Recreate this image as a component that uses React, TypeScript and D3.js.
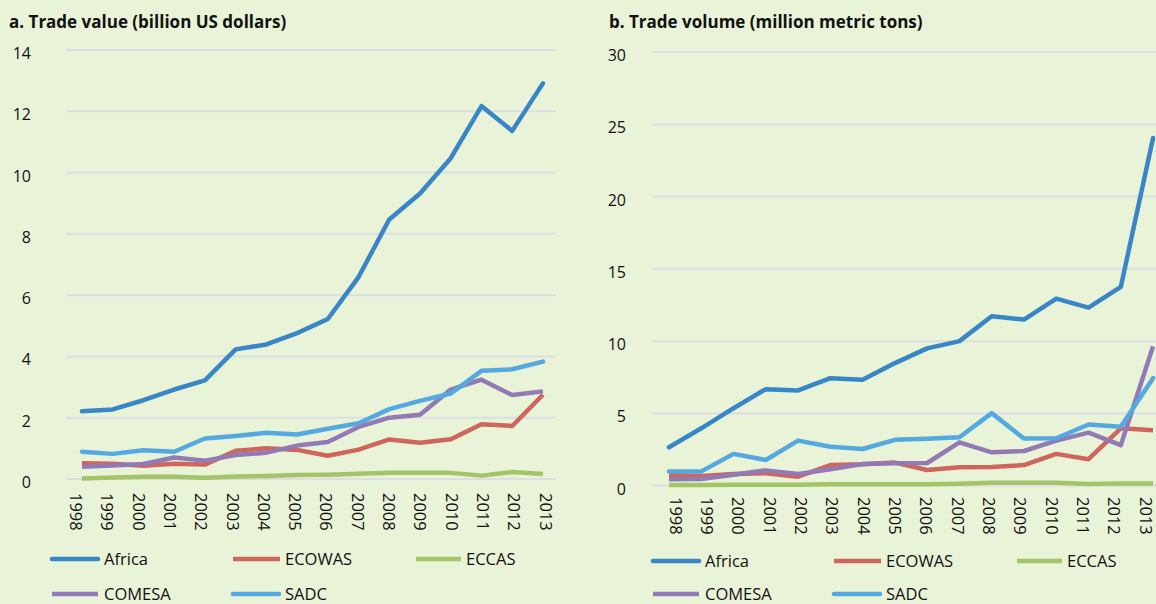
import React from 'react';
import * as d3 from 'd3';

const years = ['1998', '1999', '2000', '2001', '2002', '2003', '2004', '2005', '2006', '2007', '2008', '2009', '2010', '2011', '2012', '2013'];
const seriesNames = ['Africa', 'ECOWAS', 'ECCAS', 'COMESA', 'SADC'];
const seriesColors = ['#3886c8', '#cf665e', '#a4c468', '#917ab6', '#53a9e0'];

// a. Trade value (billion US dollars)
const valueAfrica = [2.21, 2.27, 2.57, 2.92, 3.22, 4.23, 4.39, 4.76, 5.22, 6.59, 8.47, 9.32, 10.47, 12.17, 11.36, 12.91];
const valueEcowas = [0.51, 0.5, 0.43, 0.5, 0.47, 0.92, 1.0, 0.95, 0.76, 0.96, 1.29, 1.18, 1.3, 1.79, 1.73, 2.75];
const valueEccas = [0.02, 0.05, 0.07, 0.07, 0.04, 0.08, 0.1, 0.13, 0.14, 0.17, 0.2, 0.2, 0.2, 0.11, 0.23, 0.16];
const valueComesa = [0.4, 0.44, 0.49, 0.7, 0.6, 0.78, 0.86, 1.09, 1.21, 1.7, 2.0, 2.1, 2.92, 3.24, 2.74, 2.86];
const valueSadc = [0.89, 0.82, 0.94, 0.89, 1.32, 1.4, 1.51, 1.45, 1.64, 1.82, 2.28, 2.55, 2.79, 3.53, 3.58, 3.83];
const valueTicks = [0, 2, 4, 6, 8, 10, 12, 14];

// b. Trade volume (million metric tons)
const volumeAfrica = [2.66, 3.97, 5.36, 6.68, 6.59, 7.44, 7.33, 8.48, 9.5, 10.0, 11.72, 11.49, 12.94, 12.32, 13.75, 24.05];
const volumeEcowas = [0.74, 0.67, 0.81, 0.86, 0.62, 1.43, 1.48, 1.6, 1.09, 1.27, 1.29, 1.43, 2.2, 1.83, 3.97, 3.84];
const volumeEccas = [0.05, 0.05, 0.07, 0.07, 0.06, 0.1, 0.1, 0.1, 0.1, 0.13, 0.2, 0.2, 0.2, 0.12, 0.15, 0.15];
const volumeComesa = [0.44, 0.46, 0.76, 1.06, 0.81, 1.13, 1.5, 1.55, 1.57, 3.0, 2.31, 2.4, 3.12, 3.67, 2.8, 9.64];
const volumeSadc = [0.99, 0.99, 2.2, 1.78, 3.12, 2.7, 2.54, 3.17, 3.24, 3.35, 5.02, 3.26, 3.28, 4.23, 4.07, 7.44];
const volumeTicks = [0, 5, 10, 15, 20, 25, 30];

const FONT = '"Open Sans", "Noto Sans", sans-serif';
const roundCap = [true, false, false, false, true];

const panels = [
  {
    title: 'a. Trade value (billion US dollars)',
    titleX: 9,
    series: [valueAfrica, valueEcowas, valueEccas, valueComesa, valueSadc],
    ticks: valueTicks,
    yMax: 14,
    yRange: [479, 50],
    xRange: [66.6, 558.3],
    labelRange: [76.5, 546],
    gridX: [66, 556],
    tickX: 31,
    yearTop: 493,
    legendX: 0,
    legendY: [559, 594],
  },
  {
    title: 'b. Trade volume (million metric tons)',
    titleX: 609,
    series: [volumeAfrica, volumeEcowas, volumeEccas, volumeComesa, volumeSadc],
    ticks: volumeTicks,
    yMax: 30,
    yRange: [485.7, 52],
    xRange: [652.9, 1169.2],
    labelRange: [676, 1146],
    gridX: [652, 1156],
    tickX: 626,
    yearTop: 497,
    legendX: 601,
    legendY: [561, 594],
  },
];

// legend slots: [lineStart, lineEnd, textX, row]
const legendSlots = [
  [52, 98, 104, 0],
  [233, 280, 285, 0],
  [416, 461, 466, 0],
  [52, 98, 104, 1],
  [233, 279, 285, 1],
];

const Panel = ({ p }) => {
  const x = d3.scaleBand().domain(years).range(p.xRange);
  const xl = d3.scalePoint().domain(years).range(p.labelRange);
  const y = d3.scaleLinear().domain([0, p.yMax]).range(p.yRange);
  const cx = (yr) => x(yr) + x.bandwidth() / 2;
  const line = d3.line<number>().x((_, i) => cx(years[i])).y((d) => y(d));

  return (
    <g>
      <text x={p.titleX} y={28} fontFamily={FONT} fontWeight={700} fontSize={17} fill="#111">
        {p.title}
      </text>
      {p.ticks.map((t) => (
        <g key={t}>
          <line x1={p.gridX[0]} x2={p.gridX[1]} y1={y(t)} y2={y(t)} stroke="#dcdee4" strokeWidth={2} />
          <text x={p.tickX} y={y(t) + 9} textAnchor="end" fontFamily={FONT} fontSize={16} fill="#111">
            {t}
          </text>
        </g>
      ))}
      {years.map((yr) => (
        <text
          key={yr}
          transform={`translate(${xl(yr)},${p.yearTop}) rotate(90)`}
          dominantBaseline="central"
          fontFamily={FONT}
          fontSize={16.5}
          fill="#111"
        >
          {yr}
        </text>
      ))}
      {p.series.map((s, i) => (
        <path
          key={seriesNames[i]}
          d={line(s) || ''}
          fill="none"
          stroke={seriesColors[i]}
          strokeWidth={4.5}
          strokeLinejoin="round"
          strokeLinecap={roundCap[i] ? 'round' : 'butt'}
        />
      ))}
      {legendSlots.map(([x1, x2, tx, row], i) => (
        <g key={seriesNames[i]}>
          <line
            x1={x1 + p.legendX}
            x2={x2 + p.legendX}
            y1={p.legendY[row]}
            y2={p.legendY[row]}
            stroke={seriesColors[i]}
            strokeWidth={4.5}
            strokeLinecap={roundCap[i] ? 'round' : 'butt'}
          />
          <text x={tx + p.legendX} y={p.legendY[row] + 6} fontFamily={FONT} fontSize={16.5} fill="#111">
            {seriesNames[i]}
          </text>
        </g>
      ))}
    </g>
  );
};

export default function App() {
  return (
    <svg width={1156} height={604} style={{ position: 'absolute', left: 0, top: 0 }}>
      <rect width={1156} height={604} fill="#e9f3d7" />
      {panels.map((p) => (
        <Panel key={p.title} p={p} />
      ))}
    </svg>
  );
}
